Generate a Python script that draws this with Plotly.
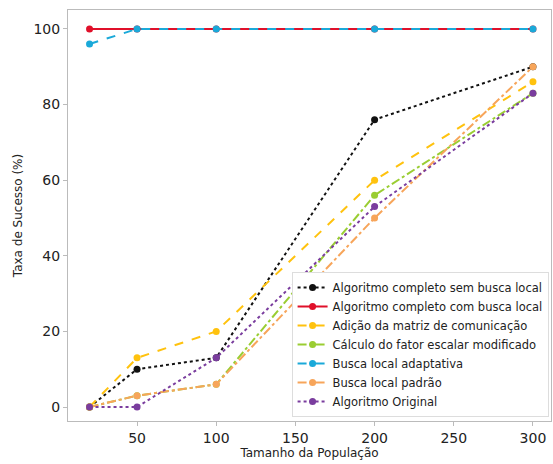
import plotly.graph_objects as go

populacao = [20, 50, 100, 200, 300]
nomes = [
    "Algoritmo completo sem busca local",
    "Algoritmo completo com busca local",
    "Adição da matriz de comunicação",
    "Cálculo do fator escalar modificado",
    "Busca local adaptativa",
    "Busca local padrão",
    "Algoritmo Original",
]
sem_busca = [0, 10, 13, 76, 90]
com_busca = [100, 100, 100, 100, 100]
matriz_com = [0, 13, 20, 60, 86]
fator_escalar = [0, 3, 6, 56, 83]
busca_adapt = [96, 100, 100, 100, 100]
busca_padrao = [0, 3, 6, 50, 90]
original = [0, 0, 13, 53, 83]

series = [sem_busca, com_busca, matriz_com, fator_escalar, busca_adapt, busca_padrao, original]
cores = ["#111111", "#e0102a", "#ffc20e", "#9acd32", "#1aa9d9", "#f7a55a", "#7a3d9e"]
tracos = ["dot", "solid", "dash", "dashdot", "dash", "dashdot", "dot"]

fig = go.Figure()
for nome, ys, cor, tr in zip(nomes, series, cores, tracos):
    fig.add_trace(go.Scatter(
        x=populacao, y=ys, name=nome, mode="lines+markers",
        line=dict(color=cor, width=2, dash=tr),
        marker=dict(color=cor, size=7),
    ))

fig.update_layout(
    width=553, height=464,
    margin=dict(l=68, r=2, t=10, b=43),
    plot_bgcolor="white", paper_bgcolor="white",
    font=dict(family="DejaVu Sans", color="#222222"),
    legend=dict(
        x=0.995, y=0.01, xanchor="right", yanchor="bottom",
        bgcolor="white", bordercolor="#dddddd", borderwidth=1,
        font=dict(size=11.5, color="#222222"),
        tracegroupgap=0, itemwidth=30,
    ),
    showlegend=True,
)
fig.update_xaxes(
    range=[6.4, 311.4], tickvals=[50, 100, 150, 200, 250, 300],
    showgrid=False, zeroline=False, showline=True, linecolor="#bbbbbb", mirror=True,
    ticks="outside", ticklen=4, tickcolor="#bbbbbb",
    tickfont=dict(size=14), title=dict(text="Tamanho da População", font=dict(size=12), standoff=2),
)
fig.update_yaxes(
    range=[-3.7, 105], tickvals=[0, 20, 40, 60, 80, 100],
    showgrid=False, zeroline=False, showline=True, linecolor="#bbbbbb", mirror=True,
    ticks="outside", ticklen=4, tickcolor="#bbbbbb",
    tickfont=dict(size=14), title=dict(text="Taxa de Sucesso (%)", font=dict(size=12), standoff=8),
)
fig.write_html("out.html")
